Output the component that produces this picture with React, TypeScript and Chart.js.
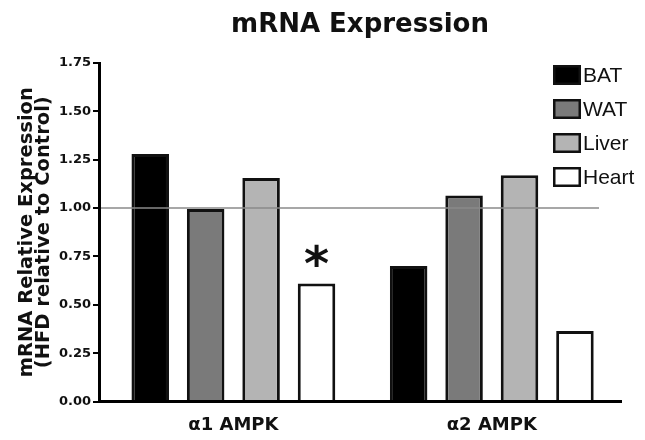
import React, { useEffect, useRef } from 'react';
import { Chart, registerables } from 'chart.js';

Chart.register(...registerables);

// ---- data ----
const groups = ['α1 AMPK', 'α2 AMPK'];
const groupPositions = [1, 2];
const tissues = ['BAT', 'WAT', 'Liver', 'Heart'];
const batValues = [1.28, 0.70];
const watValues = [0.995, 1.065];
const liverValues = [1.155, 1.17];
const heartValues = [0.61, 0.365];
const yTickValues = [0, 0.25, 0.5, 0.75, 1.0, 1.25, 1.5, 1.75];
const referenceValue = 1.0;
const significantTissue = 'Heart';
const significantGroup = 'α1 AMPK';
const significanceMark = '*';
const chartTitle = 'mRNA Expression';
const yAxisTitle = ['mRNA Relative Expression', '(HFD relative to Control)'];

// ---- styles ----
const fills = ['#000000', '#7a7a7a', '#b4b4b4', '#ffffff'];
const edge = '#111111';
const BOLD = 'DejaVu Sans';

const seriesValues = [batValues, watValues, liverValues, heartValues];

const overlayPlugin = {
  id: 'overlay',
  afterDatasetsDraw(chart: any) {
    const { ctx, chartArea, scales } = chart;
    const y = scales.y;
    ctx.save();
    // reference line at 1.0
    const yp = y.getPixelForValue(referenceValue);
    ctx.strokeStyle = '#8a8a8a';
    ctx.lineWidth = 1.5;
    ctx.beginPath();
    ctx.moveTo(chartArea.left, yp);
    ctx.lineTo(chartArea.right - 22, yp);
    ctx.stroke();

    // significance mark
    const meta = chart.getDatasetMeta(tissues.indexOf(significantTissue));
    const el = meta.data[groups.indexOf(significantGroup)];
    if (el) {
      ctx.fillStyle = '#111';
      ctx.font = `bold 48px "${BOLD}"`;
      ctx.textAlign = 'center';
      ctx.textBaseline = 'alphabetic';
      ctx.fillText(significanceMark, el.x, el.y - 4);
    }

    // legend
    const lx = 553;
    const ly = 65;
    const step = 34;
    chart.data.datasets.forEach((ds: any, i: number) => {
      const by = ly + i * step;
      ctx.fillStyle = ds.backgroundColor;
      ctx.fillRect(lx, by, 28, 20);
      ctx.strokeStyle = edge;
      ctx.lineWidth = 2.5;
      ctx.strokeRect(lx + 1.25, by + 1.25, 25.5, 17.5);
      ctx.fillStyle = '#111';
      ctx.font = '21px "Liberation Sans"';
      ctx.textAlign = 'left';
      ctx.textBaseline = 'middle';
      ctx.fillText(ds.label, lx + 30, by + 11);
    });
    ctx.restore();
  },
};

export default function App() {
  const ref = useRef<HTMLCanvasElement>(null);

  useEffect(() => {
    if (!ref.current) return;
    const chart = new Chart(ref.current, {
      type: 'bar',
      data: {
        datasets: tissues.map((t, i) => ({
          label: t,
          data: seriesValues[i].map((v, j) => ({ x: groupPositions[j], y: v })),
          backgroundColor: fills[i],
          borderColor: edge,
          borderWidth: 3,
          borderSkipped: 'start',
          categoryPercentage: 0.858,
          barPercentage: 0.677,
        })),
      },
      options: {
        responsive: false,
        animation: false,
        events: [],
        layout: { padding: { left: 0, right: 24, top: 0, bottom: 0 } },
        plugins: {
          legend: { display: false },
          tooltip: { enabled: false },
          title: {
            display: true,
            text: chartTitle,
            fullSize: false,
            color: '#111',
            font: { family: BOLD, weight: 'bold', size: 26 },
            padding: { top: 10, bottom: 21.8 },
          },
        },
        scales: {
          x: {
            type: 'linear',
            offset: false,
            min: 0.48,
            max: 2.5,
            afterBuildTicks: (scale: any) => {
              scale.ticks = groupPositions.map((v) => ({ value: v }));
            },
            ticks: {
              callback: (v: any) => groups[groupPositions.indexOf(Number(v))] ?? '',
              color: '#111',
              font: { family: BOLD, weight: 'bold', size: 18 },
              padding: 13,
              maxRotation: 0,
              autoSkip: false,
            },
            grid: { display: false, offset: false, drawTicks: false, tickLength: 0 },
            border: { display: true, color: '#000', width: 3, z: 1 },
            afterFit: (scale: any) => {
              scale.height = 38.5;
            },
          },
          y: {
            min: 0,
            max: 1.75,
            afterBuildTicks: (scale: any) => {
              scale.ticks = yTickValues.map((v) => ({ value: v }));
            },
            ticks: {
              callback: (v: any) => Number(v).toFixed(2),
              color: '#111',
              font: { family: BOLD, weight: 'bold', size: 13 },
              padding: 2,
            },
            grid: { drawOnChartArea: false, drawTicks: true, tickLength: 6, color: '#000', lineWidth: 2 },
            border: { display: true, color: '#000', width: 3, z: 1 },
            title: {
              display: true,
              text: yAxisTitle,
              color: '#111',
              font: { family: BOLD, weight: 'bold', size: 19.5, lineHeight: 0.88 },
              padding: { top: 18, bottom: 0 },
            },
            afterFit: (scale: any) => {
              scale.width = 99;
            },
          },
        },
      } as any,
      plugins: [overlayPlugin],
    });
    return () => chart.destroy();
  }, []);

  return (
    <div style={{ position: 'fixed', left: 0, top: 0, width: 645, height: 440, background: '#fff' }}>
      <canvas ref={ref} width={645} height={440} style={{ display: 'block', width: 645, height: 440 }} />
    </div>
  );
}
